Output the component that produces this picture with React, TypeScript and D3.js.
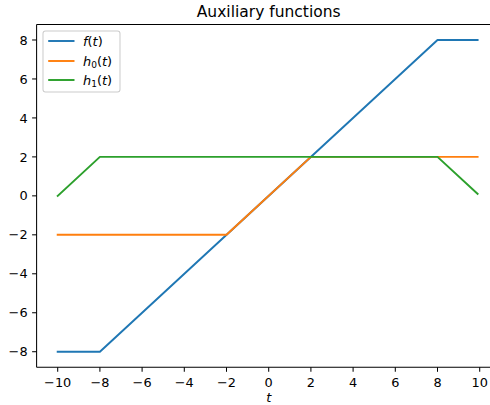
import React from "react";
import * as d3 from "d3";

const fT = [-10, -8, 8, 9.9];
const fV = [-8, -8, 8, 8];
const h0T = [-10, -2, 2, 9.9];
const h0V = [-2, -2, 2, 2];
const h1T = [-10, -8, 8, 9.9];
const h1V = [0, 2, 2, 0.1];
const xTicks = [-10, -8, -6, -4, -2, 0, 2, 4, 6, 8, 10];
const yTicks = [-8, -6, -4, -2, 0, 2, 4, 6, 8];
const seriesNames = ["f", "h0", "h1"];
const colors = ["#1f77b4", "#ff7f0e", "#2ca02c"];

const W = 490, H = 405;
const L = 36.6, R = 500.8, T = 24.4, B = 367.3;
const FONT = "DejaVu Sans, sans-serif";
const FS = 12.9;

function fmt(v: number) {
  return v < 0 ? "\u2212" + Math.abs(v) : String(v);
}

function LegendLabel({ name, x, y }: { name: string; x: number; y: number }) {
  const base = name[0];
  const sub = name.length > 1 ? name.slice(1) : null;
  return (
    <text x={x} y={y} fontFamily={FONT} fontSize={FS} fill="#000">
      <tspan fontStyle="italic">{base}</tspan>
      {sub && (
        <tspan fontSize={FS * 0.7} dy={2.5}>{sub}</tspan>
      )}
      <tspan dy={sub ? -2.5 : 0}>(</tspan>
      <tspan fontStyle="italic">t</tspan>
      <tspan>)</tspan>
    </text>
  );
}

export default function App() {
  const x = d3.scaleLinear().domain([-11, 11]).range([L, R]);
  const y = d3.scaleLinear().domain([-8.8, 8.8]).range([B, T]);
  const line = d3
    .line<[number, number]>()
    .x((d) => x(d[0]))
    .y((d) => y(d[1]));
  const data: [number, number][][] = [
    fT.map((t, i) => [t, fV[i]] as [number, number]),
    h0T.map((t, i) => [t, h0V[i]] as [number, number]),
    h1T.map((t, i) => [t, h1V[i]] as [number, number]),
  ];
  const legX = 43, legY = 30.9, legW = 77, legH = 61;
  const rowY = [41, 61, 80];
  return (
    <svg
      width={W}
      height={H}
      style={{ position: "absolute", left: 0, top: 0, background: "#fff" }}
    >
      <rect x={0} y={0} width={W} height={H} fill="#fff" />
      <text
        x={(L + R) / 2}
        y={16.7}
        textAnchor="middle"
        fontFamily={FONT}
        fontSize={15.5}
        fill="#000"
      >
        Auxiliary functions
      </text>
      {data.map((d, i) => (
        <path
          key={i}
          d={line(d) || ""}
          fill="none"
          stroke={colors[i]}
          strokeWidth={1.94}
          strokeLinejoin="round"
          strokeLinecap="square"
        />
      ))}
      {/* spines */}
      <line x1={L} x2={L} y1={T} y2={B} stroke="#000" strokeWidth={1.03} />
      <line x1={L} x2={R} y1={B} y2={B} stroke="#000" strokeWidth={1.03} />
      <line x1={L} x2={R} y1={T} y2={T} stroke="#000" strokeWidth={1.03} />
      <line x1={R} x2={R} y1={T} y2={B} stroke="#000" strokeWidth={1.03} />
      {xTicks.map((t) => (
        <g key={"x" + t}>
          <line x1={x(t)} x2={x(t)} y1={B} y2={B + 4.5} stroke="#000" strokeWidth={1.03} />
          <text
            x={x(t)}
            y={386.5}
            textAnchor="middle"
            fontFamily={FONT}
            fontSize={FS}
            fill="#000"
          >
            {fmt(t)}
          </text>
        </g>
      ))}
      {yTicks.map((t) => (
        <g key={"y" + t}>
          <line x1={L - 4.5} x2={L} y1={y(t)} y2={y(t)} stroke="#000" strokeWidth={1.03} />
          <text
            x={L - 9}
            y={y(t)}
            dy="0.36em"
            textAnchor="end"
            fontFamily={FONT}
            fontSize={FS}
            fill="#000"
          >
            {fmt(t)}
          </text>
        </g>
      ))}
      <text
        x={(L + R) / 2}
        y={402}
        textAnchor="middle"
        fontFamily={FONT}
        fontSize={FS}
        fontStyle="italic"
        fill="#000"
      >
        t
      </text>
      <rect
        x={legX}
        y={legY}
        width={legW}
        height={legH}
        rx={2.5}
        fill="#fff"
        fillOpacity={0.8}
        stroke="#cccccc"
        strokeWidth={1.03}
      />
      {seriesNames.map((n, i) => (
        <g key={n}>
          <line
            x1={48.2}
            x2={74.5}
            y1={rowY[i]}
            y2={rowY[i]}
            stroke={colors[i]}
            strokeWidth={1.94}
          />
          <LegendLabel name={n} x={83} y={rowY[i] + 4.5} />
        </g>
      ))}
    </svg>
  );
}
